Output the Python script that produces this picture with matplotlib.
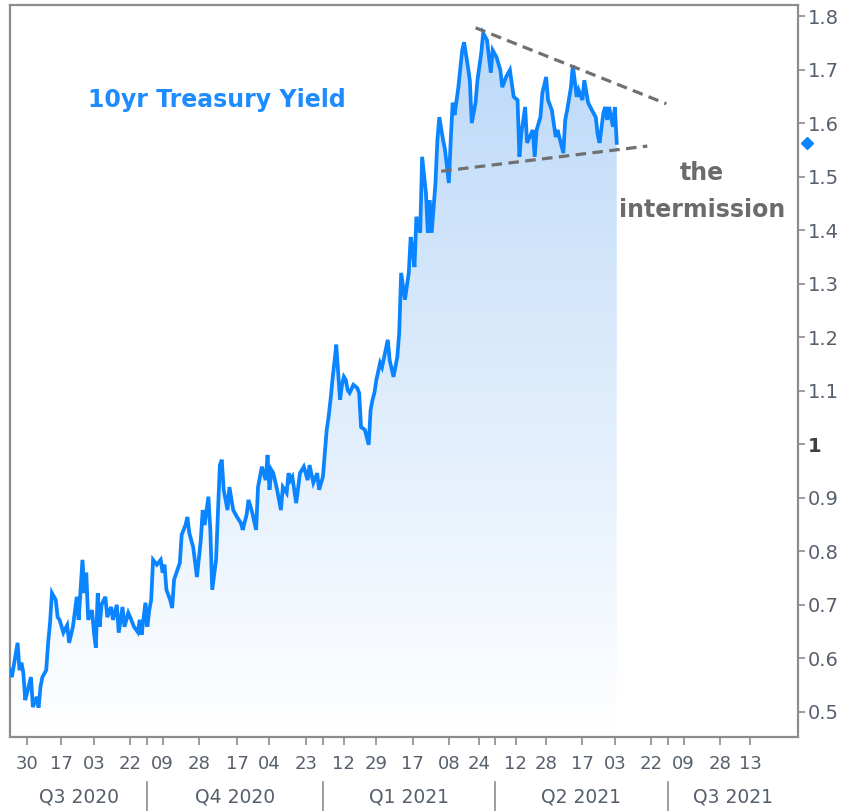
import numpy as np
import pandas as pd
import matplotlib
matplotlib.use("Agg")
import matplotlib.pyplot as plt
import matplotlib.dates as mdates
import matplotlib.transforms as mtransforms
from matplotlib.colors import LinearSegmentedColormap

# 10yr Treasury yield
dates = [
    "2020-07-21", "2020-07-22", "2020-07-25", "2020-07-26", "2020-07-27", "2020-07-28", "2020-07-29", "2020-07-30",
    "2020-08-01", "2020-08-02", "2020-08-04", "2020-08-05", "2020-08-06", "2020-08-07", "2020-08-09", "2020-08-10",
    "2020-08-11", "2020-08-12", "2020-08-14", "2020-08-15", "2020-08-16", "2020-08-18", "2020-08-20", "2020-08-21",
    "2020-08-23", "2020-08-25", "2020-08-26", "2020-08-28", "2020-08-29", "2020-08-30", "2020-08-31",
    "2020-09-02", "2020-09-03", "2020-09-04", "2020-09-05", "2020-09-06", "2020-09-07", "2020-09-09", "2020-09-10",
    "2020-09-12", "2020-09-13", "2020-09-15", "2020-09-16", "2020-09-18", "2020-09-19", "2020-09-21", "2020-09-22",
    "2020-09-24", "2020-09-26", "2020-09-27", "2020-09-28", "2020-09-30",
    "2020-10-01", "2020-10-02", "2020-10-03", "2020-10-04", "2020-10-06", "2020-10-08", "2020-10-09", "2020-10-10",
    "2020-10-11", "2020-10-13", "2020-10-14", "2020-10-15", "2020-10-18", "2020-10-19", "2020-10-21", "2020-10-22",
    "2020-10-23", "2020-10-25", "2020-10-27", "2020-10-29", "2020-10-30", "2020-10-31",
    "2020-11-02", "2020-11-03", "2020-11-04", "2020-11-05", "2020-11-06", "2020-11-08", "2020-11-09", "2020-11-10",
    "2020-11-12", "2020-11-13", "2020-11-15", "2020-11-17", "2020-11-19", "2020-11-20", "2020-11-22", "2020-11-23",
    "2020-11-25", "2020-11-27", "2020-11-28", "2020-11-30",
    "2020-12-02", "2020-12-03", "2020-12-04", "2020-12-05", "2020-12-06", "2020-12-08", "2020-12-10", "2020-12-11",
    "2020-12-13", "2020-12-14", "2020-12-15", "2020-12-16", "2020-12-18", "2020-12-20", "2020-12-22", "2020-12-24",
    "2020-12-25", "2020-12-27", "2020-12-29", "2020-12-30",
    "2021-01-01", "2021-01-02", "2021-01-03", "2021-01-04", "2021-01-05", "2021-01-06", "2021-01-07", "2021-01-08",
    "2021-01-10", "2021-01-11", "2021-01-12", "2021-01-13", "2021-01-14", "2021-01-15", "2021-01-17", "2021-01-19",
    "2021-01-20", "2021-01-21", "2021-01-23", "2021-01-25", "2021-01-26", "2021-01-27", "2021-01-28", "2021-01-29",
    "2021-01-31",
    "2021-02-01", "2021-02-04", "2021-02-05", "2021-02-07", "2021-02-09", "2021-02-10", "2021-02-11", "2021-02-13",
    "2021-02-15", "2021-02-16", "2021-02-17", "2021-02-18", "2021-02-19", "2021-02-21", "2021-02-22", "2021-02-23",
    "2021-02-24", "2021-02-25", "2021-02-26", "2021-02-27",
    "2021-03-01", "2021-03-02", "2021-03-03", "2021-03-05", "2021-03-06", "2021-03-08", "2021-03-09", "2021-03-10",
    "2021-03-11", "2021-03-13", "2021-03-15", "2021-03-16", "2021-03-18", "2021-03-19", "2021-03-20", "2021-03-22",
    "2021-03-23", "2021-03-25", "2021-03-26", "2021-03-28", "2021-03-30", "2021-03-31",
    "2021-04-02", "2021-04-04", "2021-04-05", "2021-04-07", "2021-04-09", "2021-04-11", "2021-04-13", "2021-04-14",
    "2021-04-15", "2021-04-17", "2021-04-18", "2021-04-21", "2021-04-22", "2021-04-23", "2021-04-25", "2021-04-26",
    "2021-04-28", "2021-04-29",
    "2021-05-01", "2021-05-03", "2021-05-04", "2021-05-07", "2021-05-08", "2021-05-09", "2021-05-11", "2021-05-12",
    "2021-05-14", "2021-05-15", "2021-05-17", "2021-05-18", "2021-05-20", "2021-05-22", "2021-05-24", "2021-05-25",
    "2021-05-26", "2021-05-28", "2021-05-29", "2021-05-30", "2021-05-31",
    "2021-06-02", "2021-06-03", "2021-06-04",
]
yields = [
    0.578, 0.565, 0.629, 0.578, 0.592, 0.573, 0.522, 0.536,
    0.565, 0.509, 0.528, 0.508, 0.547, 0.565, 0.578, 0.629,
    0.666, 0.722, 0.709, 0.677, 0.672, 0.648, 0.662, 0.629,
    0.659, 0.715, 0.672, 0.784, 0.722, 0.760, 0.672,
    0.690, 0.648, 0.620, 0.722, 0.659, 0.700, 0.715, 0.677,
    0.696, 0.672, 0.700, 0.648, 0.696, 0.659, 0.685, 0.677,
    0.659, 0.649, 0.672, 0.644, 0.704,
    0.659, 0.690, 0.709, 0.784, 0.775, 0.784, 0.760, 0.775,
    0.728, 0.709, 0.694, 0.747, 0.778, 0.831, 0.849, 0.864,
    0.834, 0.808, 0.752, 0.821, 0.877, 0.849,
    0.902, 0.840, 0.728, 0.756, 0.784, 0.961, 0.971, 0.915,
    0.877, 0.920, 0.877, 0.864, 0.853, 0.840, 0.868, 0.896,
    0.872, 0.840, 0.920, 0.958,
    0.933, 0.980, 0.915, 0.952, 0.946, 0.915, 0.877, 0.920,
    0.909, 0.946, 0.933, 0.939, 0.890, 0.946, 0.958, 0.933,
    0.961, 0.928, 0.946, 0.915,
    0.939, 0.984, 1.027, 1.051, 1.083, 1.120, 1.152, 1.186,
    1.083, 1.111, 1.126, 1.120, 1.101, 1.096, 1.111, 1.105,
    1.096, 1.032, 1.027, 0.999, 1.064, 1.083, 1.096, 1.120,
    1.152,
    1.144, 1.195, 1.157, 1.126, 1.163, 1.208, 1.320, 1.270,
    1.320, 1.387, 1.363, 1.331, 1.425, 1.395, 1.537, 1.503,
    1.469, 1.395, 1.456, 1.395,
    1.488, 1.568, 1.611, 1.568, 1.550, 1.488, 1.568, 1.638,
    1.615, 1.667, 1.736, 1.751, 1.705, 1.680, 1.600, 1.638,
    1.680, 1.731, 1.768, 1.755, 1.694, 1.736,
    1.723, 1.699, 1.667, 1.686, 1.699, 1.649, 1.643, 1.537,
    1.581, 1.630, 1.563, 1.587, 1.537, 1.587, 1.611, 1.656,
    1.686, 1.643,
    1.624, 1.574, 1.587, 1.544, 1.606, 1.624, 1.667, 1.708,
    1.649, 1.662, 1.643, 1.680, 1.638, 1.624, 1.611, 1.578,
    1.563, 1.619, 1.630, 1.606, 1.630,
    1.593, 1.630, 1.563,
]

# trend lines of "the intermission"
upper_trend_dates = ["2021-03-22", "2021-06-30"]
upper_trend_vals = [1.778, 1.636]
lower_trend_dates = ["2021-03-04", "2021-06-20"]
lower_trend_vals = [1.510, 1.557]

tick_dates = ["2020-07-30", "2020-08-17", "2020-09-03", "2020-09-22", "2020-10-09", "2020-10-28",
              "2020-11-17", "2020-12-04", "2020-12-23", "2021-01-12", "2021-01-29", "2021-02-17",
              "2021-03-08", "2021-03-24", "2021-04-12", "2021-04-28", "2021-05-17", "2021-06-03",
              "2021-06-22", "2021-07-09", "2021-07-28", "2021-08-13"]
quarter_starts = ["2020-07-01", "2020-10-01", "2021-01-01", "2021-04-01", "2021-07-01", "2021-10-01"]
quarter_labels = ["Q3 2020", "Q4 2020", "Q1 2021", "Q2 2021", "Q3 2021"]
y_ticks = [0.5, 0.6, 0.7, 0.8, 0.9, 1.0, 1.1, 1.2, 1.3, 1.4, 1.5, 1.6, 1.7, 1.8]

x = pd.to_datetime(dates)
y = np.array(yields)
x_start = pd.Timestamp("2020-07-21")
x_end = pd.Timestamp("2021-09-07")
y_lo, y_hi = 0.453, 1.8205

line_blue = "#0a84ff"
grey = "#8c8c8c"

fig = plt.figure(figsize=(8.59, 8.11), dpi=100)
ax = fig.add_axes([0.0116, 0.0912, 0.9174, 0.9026])

# gradient area under the line
fill = ax.fill_between(x, y, y_lo, facecolor="none", edgecolor="none")
cmap = LinearSegmentedColormap.from_list("fade", ["#ffffff", "#bcd9f8"])
grad = np.linspace(0, 1, 256).reshape(-1, 1)
img = ax.imshow(grad, extent=[mdates.date2num(x_start), mdates.date2num(x[-1]), y_lo, y.max()],
                origin="lower", aspect="auto", cmap=cmap, zorder=1)
img.set_clip_path(fill.get_paths()[0], transform=ax.transData)

ax.plot(x, y, color=line_blue, lw=2.7, zorder=3, solid_joinstyle="miter")

ax.plot(pd.to_datetime(upper_trend_dates), upper_trend_vals, color="#707070", lw=2.3,
        dashes=(3.3, 2.0), zorder=4)
ax.plot(pd.to_datetime(lower_trend_dates), lower_trend_vals, color="#707070", lw=2.3,
        dashes=(3.3, 2.0), zorder=4)

# last value marker on the right axis
blend = mtransforms.blended_transform_factory(ax.transAxes, ax.transData)
ax.plot([1.011], [y[-1]], marker="D", ms=6, color=line_blue, transform=blend, clip_on=False)

ax.text(0.099, 0.870, "10yr Treasury Yield", transform=ax.transAxes, color="#1e8cff",
        fontsize=17, fontweight="bold", va="center", ha="left")
ax.text(0.878, 0.770, "the", transform=ax.transAxes, color="#6b6b6b",
        fontsize=17, fontweight="bold", va="center", ha="center")
ax.text(0.878, 0.720, "intermission", transform=ax.transAxes, color="#6b6b6b",
        fontsize=17, fontweight="bold", va="center", ha="center")

ax.set_xlim(x_start, x_end)
ax.set_ylim(y_lo, y_hi)

for s in ax.spines.values():
    s.set_color(grey)
    s.set_linewidth(1.6)

ax.yaxis.tick_right()
ax.set_yticks(y_ticks)
ax.set_yticklabels(["1" if v == 1.0 else f"{v:g}" for v in y_ticks])
ax.tick_params(axis="y", direction="out", length=5, width=1.2, color=grey, pad=2,
               labelsize=14, labelcolor="#56606c")
for lab in ax.get_yticklabels():
    if lab.get_text() == "1":
        lab.set_fontweight("bold")
        lab.set_color("#404040")

ax.set_xticks(pd.to_datetime(tick_dates))
ax.set_xticklabels([d[-2:] for d in tick_dates])
ax.set_xticks(pd.to_datetime(quarter_starts[1:-1]), minor=True)
ax.tick_params(axis="x", which="both", direction="out", length=6, width=1.2, color=grey,
               pad=7, labelsize=13, labelcolor="#56606c")

# quarter labels and separators below the day ticks
qblend = mtransforms.blended_transform_factory(ax.transData, ax.transAxes)
q = pd.to_datetime(quarter_starts)
for i, lab in enumerate(quarter_labels):
    left = max(q[i], x_start)
    right = min(q[i + 1], x_end)
    mid = left + (right - left) / 2
    ax.text(mid, -0.082, lab, transform=qblend, ha="center", va="center",
            fontsize=13.5, color="#56606c")
for d in q[1:-1]:
    ax.plot([d, d], [-0.062, -0.11], transform=qblend, color=grey, lw=1.2, clip_on=False)

fig.savefig("out.png", dpi=100)
